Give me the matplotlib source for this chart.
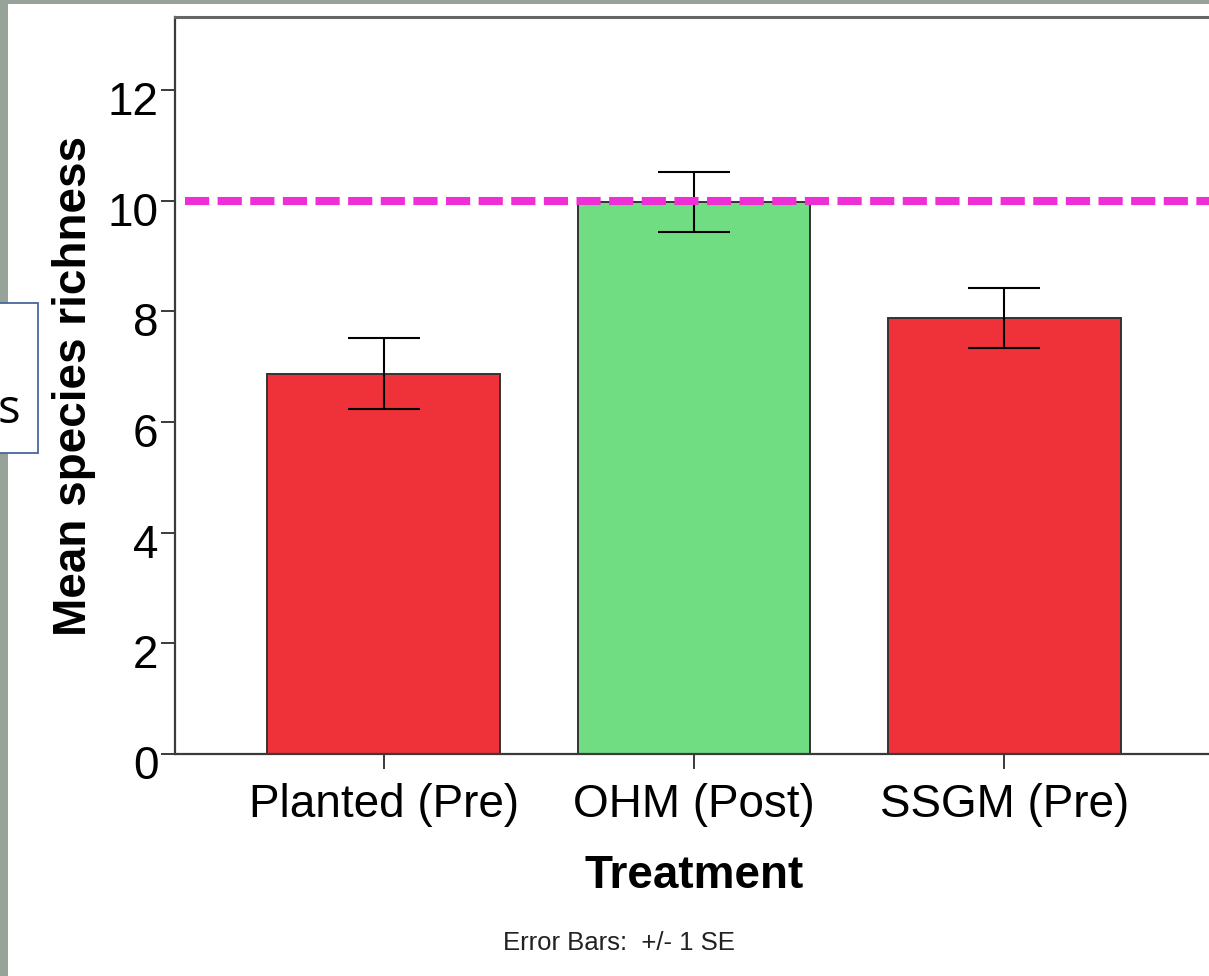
import matplotlib
matplotlib.use("Agg")
import matplotlib.pyplot as plt
from matplotlib.patches import Rectangle
import matplotlib.transforms as mtransforms

# datos
tratamientos = ["Planted (Pre)", "OHM (Post)", "SSGM (Pre)"]
medias = [6.87, 9.97, 7.88]
errores = [0.64, 0.54, 0.54]
colores = ["#EF3139", "#70DD83", "#EF3139"]
referencia = 10.0
yticks = [0, 2, 4, 6, 8, 10, 12]

plt.rcParams['font.family'] = ['Liberation Sans', 'DejaVu Sans']

fig = plt.figure(figsize=(12.09, 9.76), dpi=100, facecolor='white')

# marco gris de la captura
fig.patches.append(Rectangle((0, 0), 8 / 1209, 1, transform=fig.transFigure,
                             facecolor='#97A298', edgecolor='none', zorder=0))
fig.patches.append(Rectangle((0, 1 - 4 / 976), 1, 4 / 976, transform=fig.transFigure,
                             facecolor='#97A298', edgecolor='none', zorder=0))

ax = fig.add_axes([175 / 1209, 1 - 754 / 976, 1038 / 1209, 737 / 976])
x = range(len(tratamientos))
ax.bar(x, medias, width=0.75, color=colores, edgecolor='#333333', linewidth=1.4, zorder=2)
ax.errorbar(x, medias, yerr=errores, fmt='none', ecolor='black', elinewidth=1.5,
            capsize=26, capthick=1.5, zorder=3)
ax.axhline(referencia, color='#EE2FD5', linewidth=5.8, dashes=(3, 1.05),
           dash_capstyle='butt', zorder=4, xmin=0.01)

ax.set_xlim(-0.672, 2.672)
ax.set_ylim(0, 13.32)
ax.set_yticks(yticks)
ax.set_xticks(list(x))
ax.set_xticklabels(tratamientos)

for s in ['left', 'bottom', 'top']:
    ax.spines[s].set_color('#3a3a3a')
    ax.spines[s].set_linewidth(1.6)
ax.spines['top'].set_linewidth(2.2)
ax.spines['top'].set_color('#666666')
ax.spines['right'].set_visible(False)

ax.tick_params(axis='y', length=10, width=1.4, color='#3a3a3a', pad=2, labelsize=33)
ax.tick_params(axis='x', length=11, width=1.4, color='#3a3a3a', pad=10, labelsize=33)
desplazar = mtransforms.ScaledTranslation(0, -8 / 100, fig.dpi_scale_trans)
for lab in ax.get_yticklabels():
    lab.set_transform(lab.get_transform() + desplazar)

ax.set_ylabel("Mean species richness", fontsize=33, fontweight='bold', labelpad=8)
ax.set_xlabel("Treatment", fontsize=33, fontweight='bold', labelpad=19)

fig.text(619 / 1209, 1 - 943 / 976, "Error Bars:  +/- 1 SE", fontsize=18.5,
         ha='center', va='center', color='#222222')

# cuadro de texto cortado a la izquierda
fig.patches.append(Rectangle((-20 / 1209, 1 - 453 / 976), 58 / 1209, 150 / 976,
                             transform=fig.transFigure, facecolor='white',
                             edgecolor='#46679A', linewidth=1.3, zorder=5))
fig.text(-2 / 1209, 1 - 410 / 976, "s", fontsize=34, family=['Open Sans', 'DejaVu Sans'],
         ha='left', va='center', color='black', zorder=6)

plt.savefig("out.png", dpi=100)
plt.close()
